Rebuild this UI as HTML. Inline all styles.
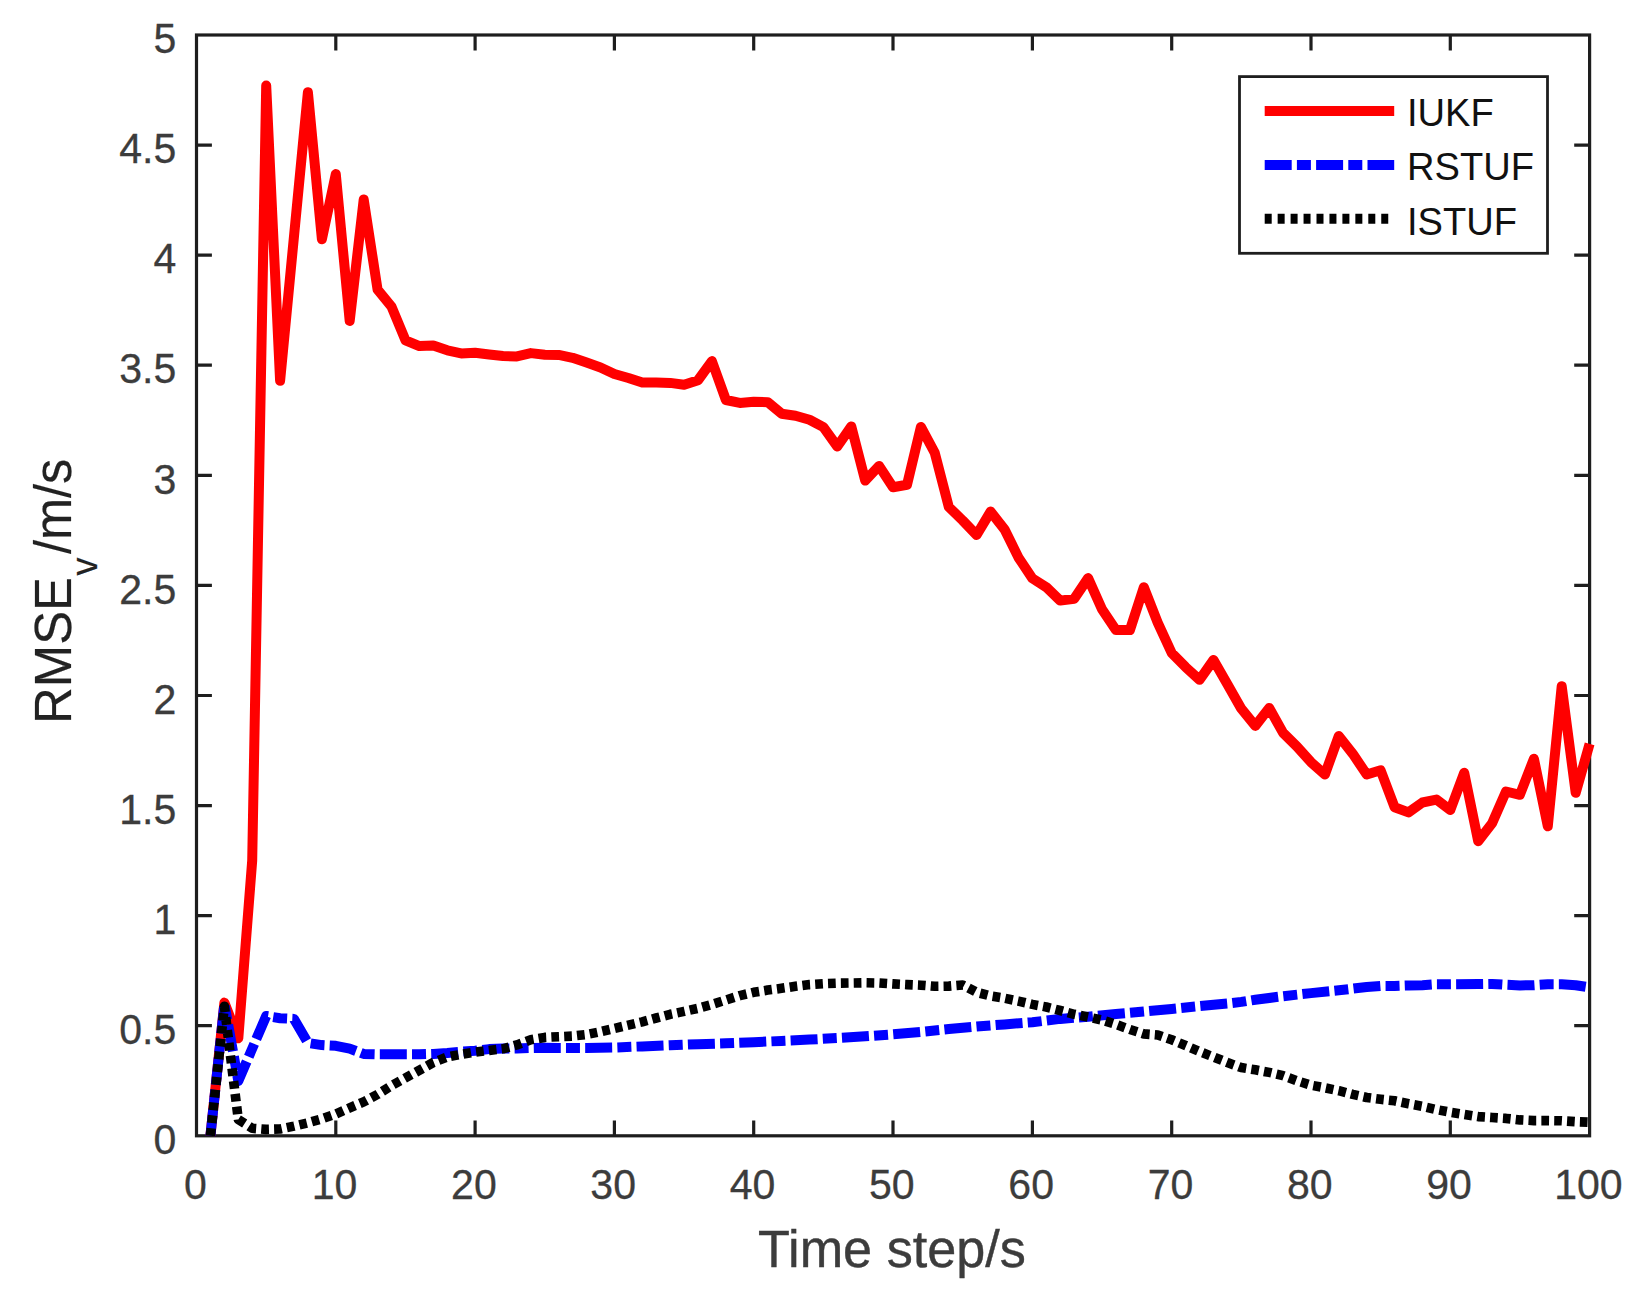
<!DOCTYPE html>
<html><head><meta charset="utf-8"><title>RMSE plot</title>
<style>
html,body{margin:0;padding:0;background:#fff}
svg{display:block}
text{font-family:"Liberation Sans",sans-serif;fill:#3c3c3c}
.tick text{font-size:43px;stroke:#3c3c3c;stroke-width:0.3px}
.lab{font-size:52.2px}
.lab text, text.lab{stroke:#3c3c3c;stroke-width:0.4px}
.lab .sub{font-size:36px}
.ylab text{fill:#222;stroke:#222;stroke-width:0.2px}
.leg text{font-size:38.1px;fill:#111}
</style></head><body>
<svg width="1641" height="1301" viewBox="0 0 1641 1301">
<defs><clipPath id="c"><rect x="196.5" y="35.0" width="1401.1" height="1102.3"/></clipPath></defs>
<rect width="1641" height="1301" fill="#fff"/>
<rect x="196.5" y="35.0" width="1393.1" height="1100.8" fill="none" stroke="#1e1e1e" stroke-width="3.2"/>
<path d="M335.8,1135.8v-15.4M335.8,35.0v15.4M475.1,1135.8v-15.4M475.1,35.0v15.4M614.4,1135.8v-15.4M614.4,35.0v15.4M753.7,1135.8v-15.4M753.7,35.0v15.4M893.0,1135.8v-15.4M893.0,35.0v15.4M1032.4,1135.8v-15.4M1032.4,35.0v15.4M1171.7,1135.8v-15.4M1171.7,35.0v15.4M1311.0,1135.8v-15.4M1311.0,35.0v15.4M1450.3,1135.8v-15.4M1450.3,35.0v15.4M196.5,1025.7h15.4M1589.6,1025.7h-15.4M196.5,915.6h15.4M1589.6,915.6h-15.4M196.5,805.6h15.4M1589.6,805.6h-15.4M196.5,695.5h15.4M1589.6,695.5h-15.4M196.5,585.4h15.4M1589.6,585.4h-15.4M196.5,475.3h15.4M1589.6,475.3h-15.4M196.5,365.2h15.4M1589.6,365.2h-15.4M196.5,255.2h15.4M1589.6,255.2h-15.4M196.5,145.1h15.4M1589.6,145.1h-15.4" stroke="#1e1e1e" stroke-width="3.2" fill="none"/>
<g class="tick"><text transform="translate(195.3,1199) scale(0.955,1)" text-anchor="middle">0</text><text transform="translate(334.6,1199) scale(0.955,1)" text-anchor="middle">10</text><text transform="translate(473.9,1199) scale(0.955,1)" text-anchor="middle">20</text><text transform="translate(613.2,1199) scale(0.955,1)" text-anchor="middle">30</text><text transform="translate(752.5,1199) scale(0.955,1)" text-anchor="middle">40</text><text transform="translate(891.8,1199) scale(0.955,1)" text-anchor="middle">50</text><text transform="translate(1031.2,1199) scale(0.955,1)" text-anchor="middle">60</text><text transform="translate(1170.5,1199) scale(0.955,1)" text-anchor="middle">70</text><text transform="translate(1309.8,1199) scale(0.955,1)" text-anchor="middle">80</text><text transform="translate(1449.1,1199) scale(0.955,1)" text-anchor="middle">90</text><text transform="translate(1588.4,1199) scale(0.955,1)" text-anchor="middle">100</text></g>
<g class="tick"><text transform="translate(176.3,1154.0) scale(0.955,1)" text-anchor="end">0</text><text transform="translate(176.3,1043.9) scale(0.955,1)" text-anchor="end">0.5</text><text transform="translate(176.3,933.8) scale(0.955,1)" text-anchor="end">1</text><text transform="translate(176.3,823.8) scale(0.955,1)" text-anchor="end">1.5</text><text transform="translate(176.3,713.7) scale(0.955,1)" text-anchor="end">2</text><text transform="translate(176.3,603.6) scale(0.955,1)" text-anchor="end">2.5</text><text transform="translate(176.3,493.5) scale(0.955,1)" text-anchor="end">3</text><text transform="translate(176.3,383.4) scale(0.955,1)" text-anchor="end">3.5</text><text transform="translate(176.3,273.4) scale(0.955,1)" text-anchor="end">4</text><text transform="translate(176.3,163.3) scale(0.955,1)" text-anchor="end">4.5</text><text transform="translate(176.3,53.2) scale(0.955,1)" text-anchor="end">5</text></g>
<text class="lab" x="892" y="1267" text-anchor="middle">Time step/s</text>
<g class="lab ylab" transform="translate(71.2,720) rotate(-90)"><text transform="translate(-4,0) scale(0.975,1)">RMSE</text><text class="sub" x="153.5" y="26" text-anchor="middle">v</text><text transform="translate(166,0) scale(0.965,1)">/m/s</text></g>
<g clip-path="url(#c)"><polyline points="210.4,1135.8 224.4,1002.6 238.3,1038.3 252.2,860.6 266.2,85.6 280.1,380.7 294.0,236.2 307.9,92.2 321.9,239.3 335.8,174.1 349.7,321.0 363.7,199.5 377.6,289.7 391.5,306.7 405.5,340.4 419.4,346.1 433.3,345.6 447.3,350.3 461.2,353.4 475.1,352.7 489.1,354.5 503.0,356.0 516.9,356.4 530.8,353.1 544.8,354.7 558.7,354.9 572.6,357.8 586.6,362.6 600.5,367.4 614.4,374.0 628.4,378.0 642.3,382.6 656.2,382.6 670.2,382.9 684.1,384.8 698.0,380.2 711.9,361.1 725.9,400.0 739.8,402.9 753.7,401.8 767.7,402.2 781.6,413.7 795.5,415.7 809.5,419.8 823.4,427.1 837.3,446.5 851.3,426.4 865.2,480.6 879.1,465.9 893.0,487.2 907.0,484.8 920.9,426.9 934.8,452.9 948.8,507.0 962.7,520.5 976.6,535.0 990.6,511.6 1004.5,529.3 1018.4,557.4 1032.4,578.4 1046.3,587.2 1060.2,600.6 1074.2,598.8 1088.1,578.1 1102.0,609.2 1115.9,630.1 1129.9,630.1 1143.8,587.2 1157.7,622.6 1171.7,653.0 1185.6,667.1 1199.5,679.8 1213.5,660.0 1227.4,684.3 1241.3,708.7 1255.3,725.9 1269.2,708.0 1283.1,732.9 1297.0,746.6 1311.0,762.2 1324.9,774.5 1338.8,736.0 1352.8,753.8 1366.7,774.5 1380.6,770.3 1394.6,807.3 1408.5,812.4 1422.4,802.5 1436.4,799.6 1450.3,810.0 1464.2,772.8 1478.2,841.2 1492.1,823.2 1506.0,791.5 1519.9,794.8 1533.9,758.7 1547.8,826.3 1561.7,686.2 1575.7,792.8 1589.6,743.9" fill="none" stroke="#ff0000" stroke-width="10" stroke-linejoin="round"/><polyline points="210.4,1135.8 224.4,1003.7 238.3,1081.0 252.2,1048.6 266.2,1016.0 280.1,1018.2 294.0,1018.9 307.9,1042.9 321.9,1045.1 335.8,1045.8 349.7,1048.6 363.7,1053.9 377.6,1054.3 391.5,1054.3 405.5,1054.3 419.4,1054.3 433.3,1053.9 447.3,1053.0 461.2,1051.7 475.1,1050.8 489.1,1049.1 503.0,1048.6 516.9,1048.4 530.8,1048.0 544.8,1047.7 558.7,1048.0 586.6,1048.0 614.4,1047.5 642.3,1046.4 670.2,1045.3 698.0,1044.2 725.9,1043.3 753.7,1042.2 781.6,1040.9 809.5,1039.6 837.3,1038.0 865.2,1036.3 893.0,1034.3 920.9,1031.9 948.8,1029.0 976.6,1026.6 1004.5,1024.4 1032.4,1022.2 1060.2,1018.9 1088.1,1016.7 1115.9,1014.1 1143.8,1011.6 1171.7,1009.0 1199.5,1006.1 1227.4,1003.5 1241.3,1001.9 1255.3,999.7 1283.1,996.2 1311.0,993.1 1338.8,990.3 1366.7,987.0 1380.6,985.9 1394.6,985.9 1408.5,985.4 1422.4,985.2 1436.4,984.3 1450.3,984.3 1478.2,984.1 1492.1,983.9 1506.0,984.8 1519.9,985.4 1533.9,985.2 1547.8,984.3 1561.7,984.3 1575.7,985.2 1589.6,987.4" fill="none" stroke="#0000ff" stroke-width="10" stroke-linejoin="round" stroke-dasharray="27 5.2 14 5.2"/><polyline points="210.4,1135.8 224.4,1006.3 238.3,1119.5 252.2,1128.3 266.2,1129.4 280.1,1129.0 294.0,1126.1 307.9,1122.8 321.9,1118.8 335.8,1114.0 349.7,1107.8 363.7,1101.9 377.6,1094.4 391.5,1085.6 405.5,1077.9 419.4,1070.2 433.3,1062.5 447.3,1057.0 461.2,1054.3 475.1,1052.1 489.1,1050.4 503.0,1048.8 516.9,1044.9 530.8,1039.8 544.8,1037.4 558.7,1036.7 572.6,1036.1 586.6,1034.5 600.5,1031.7 614.4,1028.4 628.4,1025.1 642.3,1021.8 656.2,1018.0 670.2,1014.3 684.1,1011.4 698.0,1008.3 711.9,1004.4 725.9,1000.0 739.8,995.6 753.7,992.3 767.7,990.1 781.6,988.3 795.5,986.3 809.5,984.6 823.4,983.7 837.3,983.2 851.3,983.0 865.2,982.8 879.1,983.0 893.0,983.9 907.0,984.6 920.9,985.2 934.8,986.3 948.8,986.1 962.7,985.0 976.6,992.3 990.6,996.0 1004.5,998.2 1018.4,1001.1 1032.4,1004.4 1046.3,1007.0 1060.2,1010.5 1074.2,1014.3 1088.1,1017.1 1102.0,1020.0 1115.9,1024.4 1129.9,1029.5 1143.8,1033.9 1157.7,1035.0 1171.7,1039.8 1185.6,1045.5 1199.5,1051.5 1213.5,1057.0 1227.4,1062.5 1241.3,1067.6 1255.3,1069.8 1269.2,1072.4 1283.1,1075.7 1297.0,1080.8 1311.0,1085.2 1324.9,1087.8 1338.8,1090.7 1352.8,1094.4 1366.7,1097.5 1380.6,1099.3 1394.6,1100.8 1408.5,1103.7 1422.4,1106.3 1436.4,1109.6 1450.3,1112.2 1464.2,1114.4 1478.2,1116.6 1492.1,1117.5 1506.0,1118.4 1519.9,1119.9 1533.9,1120.6 1547.8,1120.6 1561.7,1120.8 1575.7,1121.7 1589.6,1122.2" fill="none" stroke="#000000" stroke-width="9.6" stroke-linejoin="round" stroke-dasharray="7.7 5.15"/></g>
<rect x="1239.5" y="76.6" width="308" height="176.7" fill="#fff" stroke="#1e1e1e" stroke-width="2.8"/>
<path d="M1264.7,111H1394.2" stroke="#ff0000" stroke-width="10"/>
<path d="M1264.7,165H1394.2" stroke="#0000ff" stroke-width="10" stroke-dasharray="27 5.2 14 5.2"/>
<path d="M1264.7,218.8H1394.2" stroke="#000" stroke-width="10" stroke-dasharray="7.0 5.95"/>
<g class="leg"><text x="1407" y="126.4">IUKF</text><text x="1407" y="180.4">RSTUF</text><text x="1407" y="234.6">ISTUF</text></g>
</svg>
</body></html>
